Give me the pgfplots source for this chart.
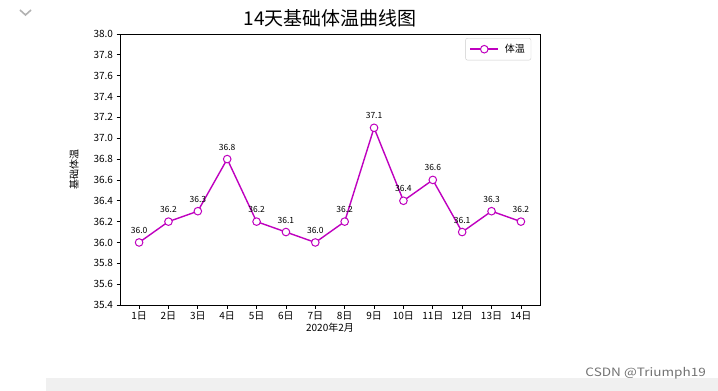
\documentclass[border=0pt]{standalone}
\usepackage{pgfplots}
\pgfplotsset{compat=1.18}
\usepackage{fontspec}
\setmainfont{Noto Sans CJK SC}
\definecolor{mag}{HTML}{BF00BF}
\begin{document}
\begin{tikzpicture}[x=1pt,y=1pt]
\fill[white] (0,0) rectangle (718,391);
\fill[black!6] (46,0) rectangle (718,13);
\draw[gray!60, line width=1.6pt] (20,381) -- (25.5,376) -- (31,381);
\node[anchor=east, text=black!55, font=\fontsize{11.5}{13}\selectfont, inner sep=0pt] at (706,18) {\scalebox{1.18}[1]{CSDN @Triumph19}};
\begin{axis}[
  at={(120pt,86pt)}, anchor=south west, scale only axis,
  width=420pt, height=271pt,
  xmin=0.35, xmax=14.65, ymin=35.4, ymax=38.0,
  xtick={1,...,14},
  xticklabels={1日,2日,3日,4日,5日,6日,7日,8日,9日,10日,11日,12日,13日,14日},
  ytick={35.4,35.6,35.8,36.0,36.2,36.4,36.6,36.8,37.0,37.2,37.4,37.6,37.8,38.0},
  yticklabel style={/pgf/number format/fixed, /pgf/number format/fixed zerofill, /pgf/number format/precision=1},
  /pgf/number format/assume math mode=true,
  tick align=outside, xtick pos=bottom, ytick pos=left,
  major tick length=3.5pt,
  tick style={black, line width=0.7pt},
  axis line style={black, line width=0.7pt},
  ticklabel style={font=\fontsize{10}{12}\selectfont},
  title={14天基础体温曲线图},
  title style={font=\fontsize{19}{22}\selectfont, yshift=-3pt},
  xlabel={2020年2月},
  ylabel={基础体温},
  label style={font=\fontsize{10}{12}\selectfont},
  xlabel style={yshift=4pt},
  ylabel style={yshift=8pt},
  legend style={at={(0.979,0.985)}, anchor=north east, draw=black!20, rounded corners=2pt,
    font=\fontsize{10}{12}\selectfont, inner sep=4pt},
  legend cell align=left,
  legend image code/.code={\draw[mark repeat=2,mark phase=2,#1] plot coordinates {(0pt,0pt)(14pt,0pt)(28pt,0pt)};},
  nodes near coords,
  nodes near coords style={font=\fontsize{8.5}{10}\selectfont, anchor=south, yshift=5pt, text=black,
    /pgf/number format/fixed, /pgf/number format/fixed zerofill, /pgf/number format/precision=1},
]
\addplot[color=mag, line width=1.4pt, mark=*, mark size=3.8pt,
  mark options={fill=white, draw=mag, line width=1pt}] coordinates {
  (1,36.0) (2,36.2) (3,36.3) (4,36.8) (5,36.2) (6,36.1) (7,36.0)
  (8,36.2) (9,37.1) (10,36.4) (11,36.6) (12,36.1) (13,36.3) (14,36.2)
};
\addlegendentry{\hspace{4pt}体温}
\end{axis}
\end{tikzpicture}
\end{document}
